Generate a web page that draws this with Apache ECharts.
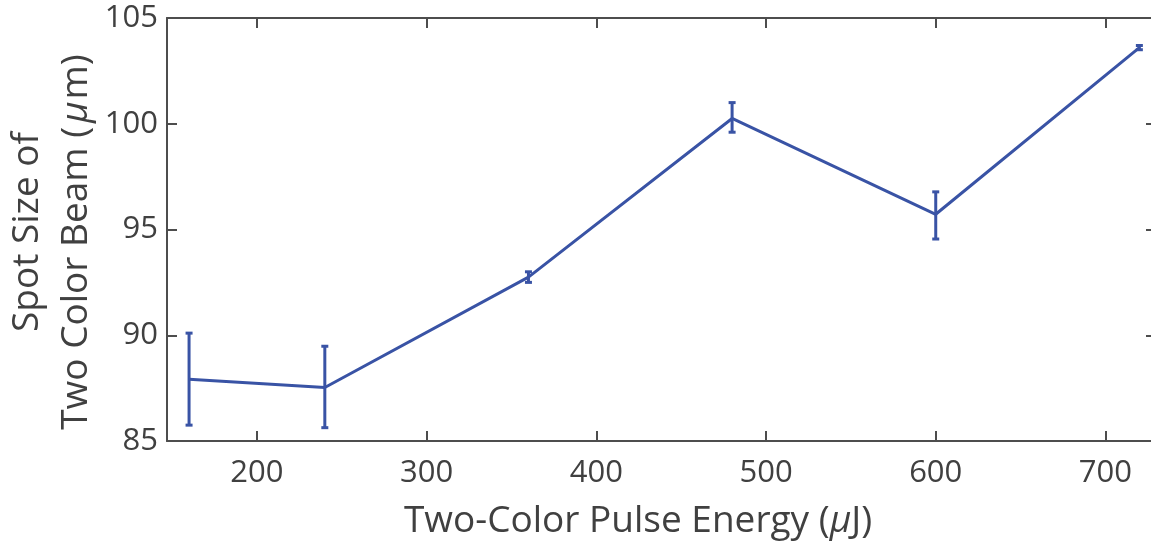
<!DOCTYPE html>
<html><head><meta charset="utf-8">
<script src="https://cdn.jsdelivr.net/npm/echarts@6/dist/echarts.min.js"></script>
<style>html,body{margin:0;padding:0;background:#fff;overflow:hidden}#c{width:1156px;height:542px}</style>
</head><body><div id="c"></div>
<script>
const energy = [160, 240, 360, 480, 600, 720];
const spot = [87.92, 87.53, 92.75, 100.25, 95.72, 103.6];
const errLow = [85.75, 85.63, 92.5, 99.6, 94.55, 103.5];
const errHigh = [90.1, 89.48, 93.0, 101.0, 96.78, 103.7];
const xTicks = [200, 300, 400, 500, 600, 700];
const yTicks = [85, 90, 95, 100, 105];

const FONT = '"Open Sans", "Noto Sans", sans-serif';
const TXT = '#404040';
const AX = '#4d4d4d';
const LINE = '#3953a5';

const chart = echarts.init(document.getElementById('c'));
const axLine = {show: true, lineStyle: {color: AX, width: 2}};
const yTick = {show: true, inside: true, length: 10, lineStyle: {color: AX, width: 2}};
const xTick = {show: true, inside: true, length: 10, customValues: xTicks, lineStyle: {color: AX, width: 2}};
chart.setOption({
  animation: false,
  grid: {left: 167, right: 0, top: 18, bottom: 101, containLabel: false},
  xAxis: [
    {type: 'value', min: 147, max: 729.8, position: 'bottom',
      axisLine: axLine, axisTick: xTick, splitLine: {show: false},
      axisLabel: {customValues: xTicks, color: TXT, fontSize: 31, fontFamily: FONT, margin: 17}},
    {type: 'value', min: 147, max: 729.8, position: 'top',
      axisLine: axLine, axisTick: xTick, splitLine: {show: false},
      axisLabel: {show: false}}
  ],
  yAxis: [
    {type: 'value', min: 85, max: 105, interval: 5, position: 'left',
      axisLine: axLine, axisTick: yTick, splitLine: {show: false},
      axisLabel: {customValues: yTicks, color: TXT, fontSize: 31, fontFamily: FONT, margin: 9}},
    {type: 'value', min: 85, max: 105, interval: 5, position: 'right',
      axisLine: axLine, axisTick: yTick, splitLine: {show: false},
      axisLabel: {show: false}}
  ],
  graphic: [
    {type: 'text', x: 638, y: 521, style: {
      text: '{n|Two-Color Pulse Energy (}{i|μ}{n|J)}', align: 'center', verticalAlign: 'middle',
      rich: {n: {fontSize: 37, fontFamily: FONT, fill: TXT}, i: {fontSize: 37, fontFamily: FONT, fontStyle: 'italic', fill: TXT}}
    }},
    {type: 'text', x: 27, y: 232, rotation: Math.PI / 2, style: {
      text: 'Spot Size of', fontSize: 37, fontFamily: FONT, fill: TXT, align: 'center', verticalAlign: 'middle'
    }},
    {type: 'text', x: 76, y: 242, rotation: Math.PI / 2, style: {
      text: '{n|Two Color Beam (}{i|μ}{n|m)}', align: 'center', verticalAlign: 'middle',
      rich: {n: {fontSize: 37, fontFamily: FONT, fill: TXT}, i: {fontSize: 37, fontFamily: FONT, fontStyle: 'italic', fill: TXT, padding: [0, 2, 0, 4]}}
    }}
  ],
  series: [
    {type: 'line', data: energy.map((e, i) => [e, spot[i]]), symbol: 'none',
      lineStyle: {color: LINE, width: 3}, z: 3},
    {type: 'custom', z: 4,
      data: energy.map((e, i) => [e, errLow[i], errHigh[i]]),
      renderItem: function (params, api) {
        const x = api.value(0);
        const lo = api.coord([x, api.value(1)]);
        const hi = api.coord([x, api.value(2)]);
        const hw = 3.5;
        const st = {stroke: LINE, lineWidth: 3};
        return {type: 'group', children: [
          {type: 'line', shape: {x1: lo[0], y1: lo[1], x2: hi[0], y2: hi[1]}, style: st},
          {type: 'line', shape: {x1: lo[0] - hw, y1: lo[1], x2: lo[0] + hw, y2: lo[1]}, style: st},
          {type: 'line', shape: {x1: hi[0] - hw, y1: hi[1], x2: hi[0] + hw, y2: hi[1]}, style: st}
        ]};
      }}
  ]
});
</script></body></html>
